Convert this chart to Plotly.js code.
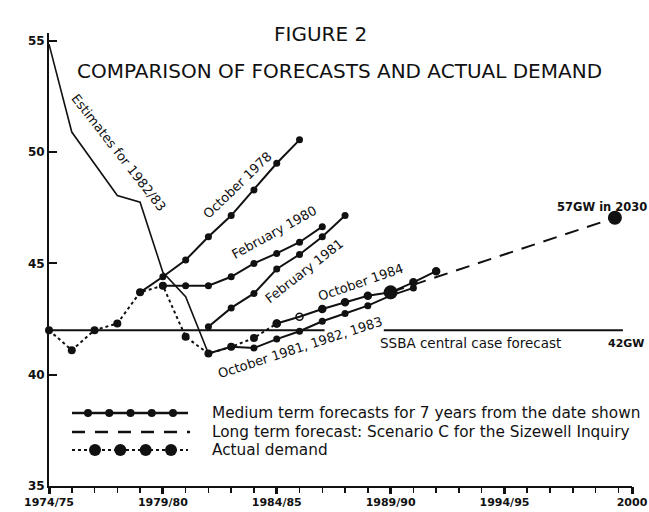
<!DOCTYPE html>
<html><head><meta charset="utf-8">
<script src="https://cdn.plot.ly/plotly-3.0.1.min.js"></script>
<style>html,body{margin:0;padding:0;background:#fff}#chart{width:649px;height:512px}</style>
</head><body><div id="chart"></div>
<script>
// ---- data (financial year start, GW) ----
const actualYears = [1974,1975,1976,1977,1978,1979,1980,1981,1982,1983,1984];
const actualGW    = [42.0,41.1,42.0,42.3,43.7,44.0,41.7,40.95,41.25,41.65,42.3];

const estYears = [1974,1975,1977,1978,1979,1980,1981];
const estGW    = [54.85,50.9,48.05,47.75,44.6,43.5,40.95];

const oct78Years = [1978,1979,1980,1981,1982,1983,1984,1985];
const oct78GW    = [43.7,44.4,45.15,46.2,47.15,48.3,49.5,50.55];

const feb80Years = [1979,1980,1981,1982,1983,1984,1985,1986];
const feb80GW    = [44.0,44.0,44.0,44.4,45.0,45.45,45.95,46.65];

const feb81Years = [1981,1982,1983,1984,1985,1986,1987];
const feb81GW    = [42.15,43.0,43.65,44.75,45.4,46.2,47.15];

const oct81Years = [1981,1982,1983,1984,1985,1986,1987,1988,1989,1990];
const oct81GW    = [40.95,41.25,41.2,41.6,41.95,42.4,42.75,43.1,43.55,43.9];

const oct84Years = [1984,1985,1986,1987,1988,1989,1990,1991];
const oct84GW    = [42.3,42.6,42.95,43.25,43.55,43.7,44.15,44.65];

const longYears = [1989, 1998.85];
const longGW    = [43.7, 47.05];

const ssbaYears = [1974, 1986.1, null, 1988.7, 1999.2];
const ssbaGW    = [42, 42, null, 42, 42];

const majorTickVals = [1974, 1979, 1984, 1989, 1994, 1999.6];
const majorTickText = ['1974/75','1979/80','1984/85','1989/90','1994/95','2000'];
const yearTickVals  = [1974,1975,1976,1977,1978,1979,1980,1981,1982,1983,1984,1985,1986,1987,1988,1989,1990,1991,1992,1993,1994,1995,1996,1997,1998,1999,1999.6];
const yTickVals = [35,40,45,50,55];

const legendLabels = [
  'Medium term forecasts for 7 years from the date shown',
  'Long term forecast: Scenario C for the Sizewell Inquiry',
  'Actual demand'
];

// ---- styles ----
const FONT = 'DejaVu Sans';
const K = '#111';
const medium = (x, y, extra) => Object.assign({
  x: x, y: y, type: 'scatter', mode: 'lines+markers',
  line: {color: K, width: 2}, marker: {color: K, size: 7}
}, extra || {});

const traces = [
  {x: ssbaYears, y: ssbaGW, type: 'scatter', mode: 'lines', line: {color: K, width: 2}, connectgaps: false},
  {x: estYears, y: estGW, type: 'scatter', mode: 'lines', line: {color: K, width: 1.6}},
  {x: actualYears, y: actualGW, type: 'scatter', mode: 'lines+markers',
    line: {color: K, width: 2, dash: '3px,3px'}, marker: {color: K, size: 8}},
  medium(oct78Years, oct78GW),
  medium(feb80Years, feb80GW),
  medium(feb81Years, feb81GW),
  medium(oct81Years, oct81GW),
  medium(oct84Years, oct84GW, {marker: {color: K, size: 7,
    symbol: oct84Years.map((_, i) => i === 1 ? 'circle-open' : 'circle'), line: {color: K, width: 1.5}}}),
  {x: longYears, y: longGW, type: 'scatter', mode: 'lines+markers',
    line: {color: K, width: 2, dash: '14px,9px'}, marker: {color: K, size: 14}},
  // invisible anchor so the major-tick overlay axis is drawn
  {x: [majorTickVals[0]], y: [yTickVals[0]], xaxis: 'x3', yaxis: 'y', type: 'scatter', mode: 'markers',
    marker: {opacity: 0, size: 1}}
];

// ---- legend drawn manually on a pixel-unit overlay axis ----
const lgX0 = 72, lgX1 = 188, lgRows = [413, 432, 450];
function spread(n, a, b) { const o = []; for (let i = 0; i < n; i++) o.push(a + (b - a) * i / (n - 1)); return o; }
traces.push({x: [lgX0, lgX1], y: [lgRows[0], lgRows[0]], xaxis: 'x2', yaxis: 'y2', mode: 'lines', type: 'scatter',
  line: {color: K, width: 2.5}});
traces.push({x: spread(5, 88, 173), y: spread(5, lgRows[0], lgRows[0]), xaxis: 'x2', yaxis: 'y2', mode: 'markers', type: 'scatter',
  marker: {color: K, size: 8}});
traces.push({x: [lgX0, lgX1 + 2], y: [lgRows[1], lgRows[1]], xaxis: 'x2', yaxis: 'y2', mode: 'lines', type: 'scatter',
  line: {color: K, width: 2.5, dash: '13px,10px'}});
traces.push({x: [lgX0, lgX1], y: [lgRows[2], lgRows[2]], xaxis: 'x2', yaxis: 'y2', mode: 'lines', type: 'scatter',
  line: {color: K, width: 2, dash: '3px,3px'}});
traces.push({x: spread(4, 95, 171), y: spread(4, lgRows[2], lgRows[2]), xaxis: 'x2', yaxis: 'y2', mode: 'markers', type: 'scatter',
  marker: {color: K, size: 12}});

traces.forEach(t => { t.hoverinfo = 'skip'; t.showlegend = false; t.cliponaxis = false; });

function lab(text, x, y, angle, size, extra) {
  return Object.assign({text: text, x: x, y: y, xref: 'x', yref: 'y', showarrow: false, textangle: angle || 0,
    font: {family: FONT, size: size || 13, color: K}}, extra || {});
}
function pxLab(text, x, y, size, extra) {
  return Object.assign({text: text, x: x, y: y, xref: 'x2', yref: 'y2', showarrow: false,
    font: {family: FONT, size: size || 13, color: K}}, extra || {});
}
const boldFont = s => ({family: FONT, size: s, color: K, weight: 'bold'});

const annotations = [
  pxLab('FIGURE 2', 320, 34, 20),
  pxLab('COMPARISON OF FORECASTS AND ACTUAL DEMAND', 339, 71, 20),
  pxLab('GW', 27, 15, 11, {font: boldFont(11)}),
  lab('Estimates for 1982/83', 1977.07, 50.0, 52, 13),
  lab('October 1978', 1982.26, 48.5, -44, 13),
  lab('February 1980', 1983.88, 46.37, -29, 13),
  lab('February 1981', 1985.24, 44.66, -38, 13),
  lab('October 1984', 1987.66, 44.16, -19, 13),
  lab('October 1981, 1982, 1983', 1985.02, 41.24, -18, 13),
  lab('SSBA central case forecast', 1988.45, 41.42, 0, 13.5, {xanchor: 'left'}),
  lab('42GW', 1998.45, 41.42, 0, 11, {xanchor: 'left', font: boldFont(11)}),
  lab('57GW in 2030', 1996.2, 47.55, 0, 11.5, {xanchor: 'left', font: boldFont(11.5)})
];
legendLabels.forEach((t, i) => annotations.push(pxLab(t, 210, lgRows[i], 15.3, {xanchor: 'left'})));

const layout = {
  width: 649, height: 512,
  margin: {l: 49, r: 17, t: 33, b: 26, pad: 0},
  paper_bgcolor: '#fff', plot_bgcolor: '#fff',
  showlegend: false,
  xaxis: {
    range: [1974, 1999.6], tickmode: 'array', tickvals: yearTickVals,
    ticktext: yearTickVals.map(v => { const i = majorTickVals.indexOf(v); return i >= 0 ? majorTickText[i] : ''; }),
    ticks: 'outside', ticklen: 5, tickwidth: 1.5, tickcolor: K,
    showline: true, linewidth: 2, linecolor: K, showgrid: false, zeroline: false,
    tickfont: {family: FONT, size: 11, color: K, weight: 'bold'}
  },
  xaxis3: {
    overlaying: 'x', anchor: 'y', side: 'bottom', range: [1974, 1999.6], tickmode: 'array', tickvals: majorTickVals,
    showticklabels: false, ticks: 'outside', ticklen: 7, tickwidth: 3, tickcolor: K,
    showline: false, showgrid: false, zeroline: false
  },
  yaxis: {
    range: [35, 55.35], tickmode: 'array', tickvals: yTickVals,
    ticks: 'inside', ticklen: 8, tickwidth: 2, tickcolor: K,
    showline: true, linewidth: 2, linecolor: K, showgrid: false, zeroline: false,
    tickfont: {family: FONT, size: 12, color: K, weight: 'bold'}
  },
  xaxis2: {overlaying: 'x', range: [49, 632], visible: false, fixedrange: true},
  yaxis2: {overlaying: 'y', range: [486, 33], visible: false, fixedrange: true},
  annotations: annotations
};

Plotly.newPlot('chart', traces, layout, {staticPlot: true, displayModeBar: false});
</script>
</body></html>
